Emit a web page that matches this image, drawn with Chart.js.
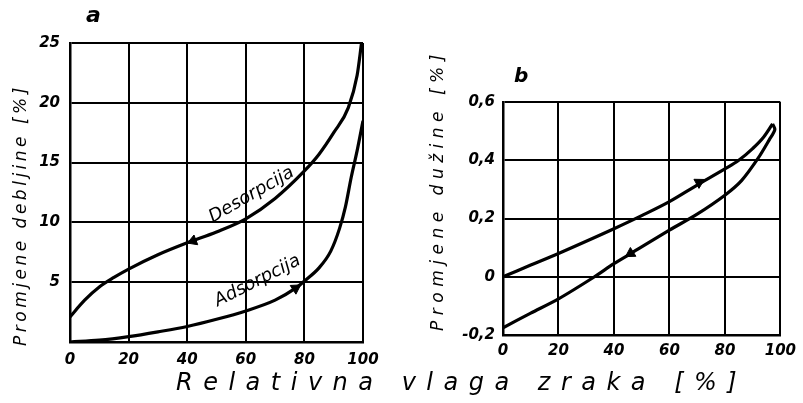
<!DOCTYPE html>
<html>
<head>
<meta charset="utf-8">
<script src="https://cdn.jsdelivr.net/npm/chart.js@4/dist/chart.umd.min.js"></script>
<style>
    body { margin: 0; background: #fff; width: 803px; height: 403px; overflow: hidden; position: relative; font-family: "DejaVu Sans", sans-serif; }
    .box { position: absolute; top: 0; height: 403px; }
    .txt { position: absolute; font-style: italic; color: #000; white-space: nowrap; }
    .ytitle { width: 320px; height: 24px; line-height: 24px; text-align: center; transform: rotate(-90deg); font-size: 17px; }
</style>
</head>
<body>
<div class="box" style="left:0;width:400px"><canvas id="chart-a" width="400" height="403"></canvas></div>
<div class="box" style="left:400px;width:403px"><canvas id="chart-b" width="403" height="403"></canvas></div>

<div class="txt" style="left:86px;top:2px;font-size:22px;font-weight:bold">a</div>
<div class="txt" style="left:514px;top:63px;font-size:20px;font-weight:bold">b</div>
<div class="txt ytitle" style="left:-140px;top:203px;letter-spacing:3.5px">Promjene debljine [%]</div>
<div class="txt ytitle" style="left:277px;top:178px;letter-spacing:5.5px">Promjene dužine [%]</div>
<div class="txt" style="left:176px;top:368px;font-size:24px;letter-spacing:10.5px;word-spacing:0px">Relativna vlaga zraka [%]</div>

<script>
// a) promjene debljine
const desX = [0, 5, 10, 15, 20, 30, 40, 50, 60, 70, 80, 85, 90, 95, 98, 99.5];
const desY = [2.1, 3.5, 4.6, 5.4, 6.1, 7.3, 8.3, 9.2, 10.3, 12.0, 14.3, 15.7, 17.5, 19.6, 22.3, 25];
const adsX = [0, 10, 20, 30, 40, 50, 60, 70, 77, 80, 85, 89, 92, 94, 96, 98, 100];
const adsY = [0, 0.15, 0.45, 0.85, 1.3, 1.9, 2.6, 3.5, 4.5, 5.1, 6.2, 7.6, 9.5, 11.3, 13.8, 16.0, 18.5];

// b) promjene duzine
const upX = [0, 10, 20, 30, 40, 50, 60, 70, 80, 85, 90, 94, 97.2];
const upY = [0, 0.04, 0.08, 0.122, 0.165, 0.21, 0.258, 0.315, 0.37, 0.40, 0.44, 0.48, 0.525];
const lowX = [0, 10, 20, 33, 40, 47, 60, 70, 80, 86, 92, 96, 98, 97.2];
const lowY = [-0.175, -0.125, -0.076, 0, 0.045, 0.085, 0.16, 0.215, 0.28, 0.33, 0.407, 0.47, 0.505, 0.525];

// strelice: [x, y, rotacija]
const arrowsA = [[42, 8.45, 249], [77, 4.5, 57]];
const arrowsB = [[70.7, 0.324, 61], [46, 0.08, 238]];

const tickFont = { family: 'DejaVu Sans', size: 15, style: 'italic', weight: 'bold' };

function pts(xs, ys) {
    return xs.map((x, i) => ({ x, y: ys[i] }));
}

function curve(xs, ys, opts = {}) {
    return Object.assign({
        data: pts(xs, ys),
        showLine: true,
        borderColor: '#000',
        borderWidth: 3.2,
        pointRadius: 0,
        cubicInterpolationMode: 'monotone'
    }, opts);
}

function arrows(list) {
    return {
        data: list.map(a => ({ x: a[0], y: a[1] })),
        showLine: false,
        pointStyle: 'triangle',
        pointRadius: 6,
        pointRotation: list.map(a => a[2]),
        backgroundColor: '#000',
        borderColor: '#000',
        borderWidth: 1
    };
}

const curveLabels = {
    id: 'curveLabels',
    afterDatasetsDraw(chart) {
        const { ctx, scales } = chart;
        [['Desorpcija', 62, 12.3, -30], ['Adsorpcija', 64, 5.1, -27]].forEach(([t, x, y, a]) => {
            ctx.save();
            ctx.translate(scales.x.getPixelForValue(x), scales.y.getPixelForValue(y));
            ctx.rotate(a * Math.PI / 180);
            ctx.font = 'italic 18px "DejaVu Sans"';
            ctx.fillStyle = '#000';
            ctx.textAlign = 'center';
            ctx.textBaseline = 'middle';
            ctx.fillText(t, 0, 0);
            ctx.restore();
        });
    }
};

function axes(yMin, yMax, yStep, yWidth, xHeight, yFmt, yPad, xPad) {
    return {
        x: {
            type: 'linear', min: 0, max: 100,
            afterFit: s => { s.height = xHeight; },
            grid: { color: '#000', lineWidth: 2, drawTicks: false },
            border: { color: '#000', width: 2.5 },
            ticks: { stepSize: 20, color: '#000', font: tickFont, padding: xPad, maxRotation: 0 }
        },
        y: {
            min: yMin, max: yMax,
            afterFit: s => { s.width = yWidth; },
            grid: { color: '#000', lineWidth: 2, drawTicks: false },
            border: { color: '#000', width: 2.5 },
            ticks: { stepSize: yStep, color: '#000', font: tickFont, padding: yPad, callback: yFmt }
        }
    };
}

new Chart(document.getElementById('chart-a'), {
    type: 'scatter',
    data: {
        datasets: [
            curve(desX, desY),
            curve(adsX, adsY),
            arrows(arrowsA)
        ]
    },
    options: {
        responsive: false,
        animation: false,
        layout: { padding: { top: 43, right: 37, left: 0, bottom: 0 } },
        plugins: { legend: { display: false }, tooltip: { enabled: false } },
        scales: axes(0, 25, 5, 70, 61, v => (v === 0 ? '' : String(v)), 10, 9)
    },
    plugins: [curveLabels]
});

new Chart(document.getElementById('chart-b'), {
    type: 'scatter',
    data: {
        datasets: [
            curve(upX, upY),
            curve(lowX, lowY, { cubicInterpolationMode: 'default', tension: 0.3 }),
            arrows(arrowsB)
        ]
    },
    options: {
        responsive: false,
        animation: false,
        layout: { padding: { top: 102, right: 17, left: 0, bottom: 0 } },
        plugins: { legend: { display: false }, tooltip: { enabled: false } },
        scales: axes(-0.2, 0.6, 0.2, 103, 68, v => {
            const r = Math.round(v * 10) / 10;
            return r === 0 ? '0' : r.toFixed(1).replace('.', ',');
        }, 8, 7)
    }
});
</script>
</body>
</html>
